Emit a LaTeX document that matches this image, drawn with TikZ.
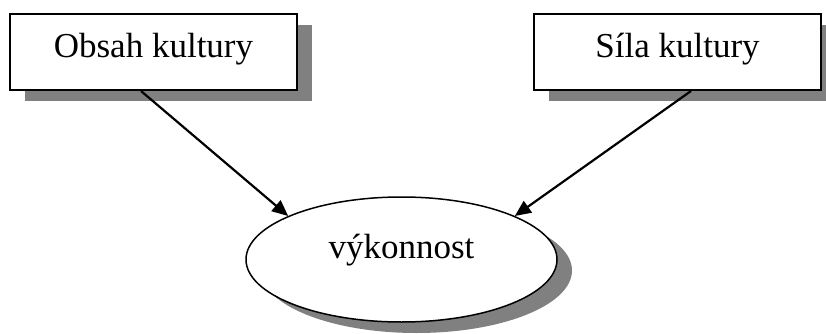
\documentclass[tikz,border=0pt]{standalone}
\usepackage{fontspec}
\setmainfont{Liberation Serif}
\usetikzlibrary{positioning}
\usetikzlibrary{shapes.geometric}
\usetikzlibrary{shadows}
\usetikzlibrary{arrows.meta}

\begin{document}
\begin{tikzpicture}
[
x=1pt, y=-1pt,
factor/.style={rectangle, draw, line width=2pt, fill=white, minimum width=287pt, minimum height=76pt, text depth=14pt, font=\fontsize{35}{40}\selectfont, drop shadow={shadow xshift=15pt, shadow yshift=-11pt, fill=gray, opacity=1}},
result/.style={ellipse, draw, line width=1.5pt, fill=white, minimum width=311pt, minimum height=125pt, text depth=26pt, font=\fontsize{35}{40}\selectfont, drop shadow={shadow xshift=15pt, shadow yshift=-11pt, fill=gray, opacity=1}},
link/.style={line width=2.2pt, -{Triangle[length=16pt, width=14pt]}},
]
\useasboundingbox (0,0) rectangle (826,334);
\node (obsah) [factor] at (153.5,52)             {Obsah kultury};
\node (sila)  [factor, right = 235pt of obsah]   {Síla kultury};
\node (vyk)   [result] at (401.5,259.5)          {výkonnost};
\draw [link] ([xshift=-12.5pt]obsah.south) -- (vyk.159);
\draw [link] ([xshift=13.5pt]sila.south)   -- (vyk.21);
\end{tikzpicture}
\end{document}
